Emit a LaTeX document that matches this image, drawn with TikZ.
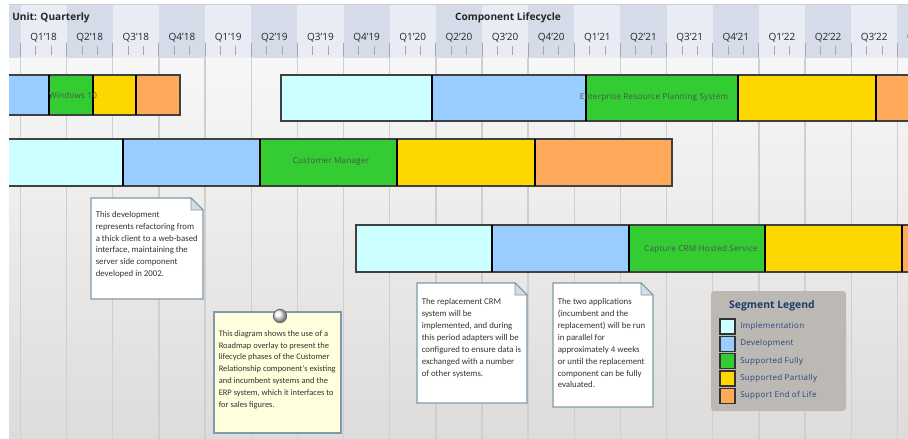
\documentclass[tikz,border=0pt]{standalone}
\usepackage{fontspec}
\setmainfont{Open Sans}
\newfontfamily\notefont{Carlito}
\newfontfamily\lgfont[LetterSpace=4]{Open Sans}
\newfontfamily\barfont[LetterSpace=3]{Open Sans}
\definecolor{cImp}{HTML}{CCFFFF}
\definecolor{cDev}{HTML}{99CCFF}
\definecolor{cFull}{HTML}{33CC33}
\definecolor{cPart}{HTML}{FFD700}
\definecolor{cEol}{HTML}{FFAA5A}
\definecolor{hdDark}{HTML}{D6DBEA}
\definecolor{hdLight}{HTML}{E9ECF4}
\definecolor{bgTop}{HTML}{F7F7F7}
\definecolor{bgBot}{HTML}{DEDCDA}
\definecolor{gridc}{HTML}{CFCFCF}
\definecolor{tickc}{HTML}{B3A2A2}
\definecolor{noteb}{HTML}{7F9AAB}
\definecolor{notefold}{HTML}{D5DDE3}
\definecolor{noteyel}{HTML}{FFFFDD}
\definecolor{lgbg}{HTML}{BCB8B4}
\definecolor{lgtitle}{HTML}{1E3A6E}
\definecolor{lgtext}{HTML}{26477A}
\definecolor{bartext}{HTML}{505050}
\definecolor{notetext}{HTML}{333333}
\tikzset{
  gridline/.style={draw=gridc, line width=1pt},
  tickline/.style={draw=tickc, line width=0.7pt},
  qlab/.style={font=\fontsize{7.5}{9}\selectfont, text=black!85, inner sep=0pt},
  hdlab/.style={font=\bfseries\fontsize{7.6}{9}\selectfont, text=black!85, inner sep=0pt},
  barout/.style={draw=black!75, line width=0.8pt},
  barsep/.style={draw=black, line width=1.2pt},
  barlab/.style={font=\barfont\fontsize{6.1}{8}\selectfont, text=bartext, inner sep=0pt},
  notebox/.style={draw=noteb, line width=0.8pt, fill=white},
  notetxt/.style={font=\notefont\fontsize{6.6}{8.9}\selectfont, text=notetext, align=left, inner sep=0pt, anchor=north west},
  swatch/.style={draw=black!80, line width=0.9pt},
  lglab/.style={font=\lgfont\fontsize{6}{8}\selectfont, text=lgtext, inner sep=0pt, anchor=west},
}
\begin{document}
\begin{tikzpicture}[x=0.75pt,y=-0.75pt]
\useasboundingbox (0,0) rectangle (908,439);
\fill[white] (0,0) rectangle (908,439);
\begin{scope}
\clip (9,4) rectangle (908,439);
\shade[top color=bgTop, bottom color=bgBot] (9,58) rectangle (908,439);
% header bands
\foreach \k in {-1,...,19}{
  \pgfmathsetmacro\xa{20.5+46.15*\k}
  \pgfmathsetmacro\xb{\xa+46.15}
  \pgfmathtruncatemacro\odd{mod(\k+2,2)}
  \ifnum\odd=1 \fill[hdDark] (\xa,4) rectangle (\xb,58);
  \else \fill[hdLight] (\xa,4) rectangle (\xb,58); \fi
}
\draw[gridc, line width=0.6pt] (9,4) -- (908,4);
% grid, ticks, labels
\foreach \k/\q in {0/Q1'18,1/Q2'18,2/Q3'18,3/Q4'18,4/Q1'19,5/Q2'19,6/Q3'19,7/Q4'19,8/Q1'20,9/Q2'20,10/Q3'20,11/Q4'20,12/Q1'21,13/Q2'21,14/Q3'21,15/Q4'21,16/Q1'22,17/Q2'22,18/Q3'22,19/Q4'22}{
  \pgfmathsetmacro\xa{20.5+46.15*\k}
  \draw[gridline] (\xa,58) -- (\xa,439);
  \draw[tickline] (\xa,43) -- (\xa,57);
  \draw[tickline] (\xa+15.38,46) -- (\xa+15.38,55);
  \draw[tickline] (\xa+30.77,46) -- (\xa+30.77,55);
  \node[qlab] (q\k) at (\xa+23.07,38) {\q};
}
\node[hdlab, anchor=west] (unit) at (12,17.5) {Unit: Quarterly};
\node[hdlab] (title) at (508,17.5) {Component Lifecycle};

% bars
% row 1a: Windows 10
\fill[cDev] (0,75) rectangle (49,115);
\fill[cFull] (49,75) rectangle (93,115);
\fill[cPart] (93,75) rectangle (136,115);
\fill[cEol] (136,75) rectangle (180,115);
\draw[barout] (0,75) rectangle (180,115);
\foreach \s in {49,93,136}{\draw[barsep] (\s,75) -- (\s,115);}
\node[barlab] (win) at (73,95) {Windows 10};
% row 1b: ERP
\fill[cImp] (281,75) rectangle (432,121);
\fill[cDev] (432,75) rectangle (586,121);
\fill[cFull] (586,75) rectangle (738,121);
\fill[cPart] (738,75) rectangle (876,121);
\fill[cEol] (876,75) rectangle (930,121);
\draw[barout] (281,75) rectangle (930,121);
\foreach \s in {432,586,738,876}{\draw[barsep] (\s,75) -- (\s,121);}
\node[barlab] (erp) at (654,97.5) {Enterprise Resource Planning System};
% row 2: Customer Manager
\fill[cImp] (0,139) rectangle (123,186);
\fill[cDev] (123,139) rectangle (260,186);
\fill[cFull] (260,139) rectangle (397,186);
\fill[cPart] (397,139) rectangle (535,186);
\fill[cEol] (535,139) rectangle (672,186);
\draw[barout] (0,139) rectangle (672,186);
\foreach \s in {123,260,397,535}{\draw[barsep] (\s,139) -- (\s,186);}
\node[barlab] (cm) at (331,162) {Customer Manager};
% row 3: Capture CRM
\fill[cImp] (356,225) rectangle (492,272);
\fill[cDev] (492,225) rectangle (629,272);
\fill[cFull] (629,225) rectangle (765,272);
\fill[cPart] (765,225) rectangle (902,272);
\fill[cEol] (902,225) rectangle (930,272);
\draw[barout] (356,225) rectangle (930,272);
\foreach \s in {492,629,765,902}{\draw[barsep] (\s,225) -- (\s,272);}
\node[barlab] (crm) at (701,249) {Capture CRM Hosted Service};
\end{scope}

% note 1
\draw[notebox] (91,198) -- (191,198) -- (203,210) -- (203,299) -- (91,299) -- cycle;
\draw[noteb, line width=0.6pt, fill=notefold] (191,198) -- (191,210) -- (203,210) -- cycle;
\node[notetxt] (n1) at (95.5,211) {This development\\represents refactoring from\\a thick client to a web-based\\interface, maintaining the\\server side component\\developed in 2002.};

% note 2 (yellow)
\draw[draw=noteb, line width=0.8pt, fill=noteyel] (214,312) rectangle (341,433);
\shade[ball color=white!90!gray] (280,316) circle (6.7);
\draw[gray!80!black, line width=0.6pt] (280,316) circle (6.7);
\node[notetxt, font=\notefont\fontsize{6.35}{8.9}\selectfont] (n2) at (218.5,330) {This diagram shows the use of a\\Roadmap overlay to present the\\lifecycle phases of the Customer\\Relationship component's existing\\and incumbent systems and the\\ERP system, which it interfaces to\\for sales figures.};

% note 3
\draw[notebox] (417,283) -- (515,283) -- (527,295) -- (527,403) -- (417,403) -- cycle;
\draw[noteb, line width=0.6pt, fill=notefold] (515,283) -- (515,295) -- (527,295) -- cycle;
\node[notetxt] (n3) at (421.5,298.5) {The replacement CRM\\system will be\\implemented, and during\\this period adapters will be\\configured to ensure data is\\exchanged with a number\\of other systems.};

% note 4
\draw[notebox] (553,283) -- (641,283) -- (653,295) -- (653,407) -- (553,407) -- cycle;
\draw[noteb, line width=0.6pt, fill=notefold] (641,283) -- (641,295) -- (653,295) -- cycle;
\node[notetxt] (n4) at (557.5,298.5) {The two applications\\(incumbent and the\\replacement) will be run\\in parallel for\\approximately 4 weeks\\or until the replacement\\component can be fully\\evaluated.};

% legend
\fill[lgbg, rounded corners=2.5pt] (711,291) rectangle (846,411);
\node[font=\bfseries\fontsize{7.8}{9}\selectfont, text=lgtitle, inner sep=0pt] (lgt) at (772,306) {Segment Legend};
\foreach \i/\c/\t in {0/cImp/Implementation,1/cDev/Development,2/cFull/Supported Fully,3/cPart/Supported Partially,4/cEol/Support End of Life}{
  \pgfmathsetmacro\yy{319+17.3*\i}
  \draw[swatch, fill=\c] (720,\yy) rectangle (735,\yy+15);
  \node[lglab] (lg\i) at (740,\yy+7.5) {\t};
}
\end{tikzpicture}
\end{document}
